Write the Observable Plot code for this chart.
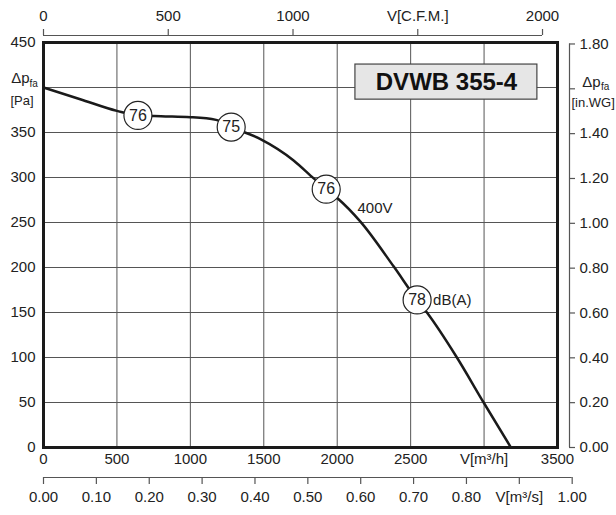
<!DOCTYPE html>
<html><head><meta charset="utf-8">
<script src="https://cdn.jsdelivr.net/npm/d3@7"></script>
<script src="https://cdn.jsdelivr.net/npm/@observablehq/plot@0.6"></script>
<style>html,body{margin:0;padding:0;background:#fff}</style>
</head><body><div id="chart"></div>
<script>
// ---- data ----
const flowM3h   = [0, 250, 500, 643, 800, 1000, 1175, 1278, 1474, 1703, 1840, 1925, 2002, 2158, 2385, 2544, 2611, 2815, 2997, 3183];
const pressurePa = [400, 387, 374, 369, 368, 367, 364, 356, 343, 319, 299, 287, 277, 251, 201, 164, 150, 100, 50, 0];

const soundFlow = [643, 1278, 1925, 2544];
const soundPa   = [369, 356, 287, 164];
const soundDb   = ["76", "75", "76", "78"];

const m3hTicks  = [0, 500, 1000, 1500, 2000, 2500, 3000, 3500];
const m3hLabels = ["0", "500", "1000", "1500", "2000", "2500", "V[m³/h]", "3500"];
const paTicks   = [0, 50, 100, 150, 200, 250, 300, 350, 400, 450];
const paLabels  = ["0", "50", "100", "150", "200", "250", "300", "350", "", "450"];
const cfmTicks  = [0, 500, 1000, 1500, 2000];
const cfmLabels = ["0", "500", "1000", "V[C.F.M.]", "2000"];
const m3sTicks  = [0, 0.1, 0.2, 0.3, 0.4, 0.5, 0.6, 0.7, 0.8, 0.9, 1.0];
const m3sLabels = ["0.00", "0.10", "0.20", "0.30", "0.40", "0.50", "0.60", "0.70", "0.80", "V[m³/s]", "1.00"];
const inwgTicks  = [0, 0.2, 0.4, 0.6, 0.8, 1.0, 1.2, 1.4, 1.6, 1.8];
const inwgLabels = ["0.00", "0.20", "0.40", "0.60", "0.80", "1.00", "1.20", "1.40", "", "1.80"];

const modelName = "DVWB 355-4";
const voltageLabel = "400V";
const unitLabel = "dB(A)";

// unit conversions
const CFM_TO_M3H = 1.699;
const M3S_TO_M3H = 3600;
const INWG_TO_PA = 249.09;

// ---- layout ----
const W = 616, H = 515;
const mL = 43, mR = 59, mT = 42, mB = 68;
const xMax = 3500, yMax = 450;
const ux = xMax / (W - mL - mR);   // data units per px (x)
const uy = yMax / (H - mT - mB);   // data units per px (y)
const font = "Liberation Sans, Arial, Helvetica, sans-serif";

const curve = flowM3h.map((v, i) => ({v, p: pressurePa[i]}));
const sound = soundFlow.map((v, i) => ({v, p: soundPa[i], t: soundDb[i]}));
const gridX = m3hTicks.filter(d => d > 0 && d < xMax);
const gridY = paTicks.filter(d => d > 0 && d < yMax);

const topLine = yMax + 7 * uy, topTick = yMax + 13 * uy, topText = yMax + 26 * uy;
const botLine = -30 * uy, botTick = -37 * uy, botText = -50 * uy;
const rLine = xMax + 12 * ux, rTick = xMax + 18 * ux, rText = xMax + 22 * ux;
const gray = "#555";

const chart = Plot.plot({
  width: W, height: H,
  marginLeft: mL, marginRight: mR, marginTop: mT, marginBottom: mB,
  x: {domain: [0, xMax], axis: null},
  y: {domain: [0, yMax], axis: null},
  style: {fontFamily: font, fontSize: "15px", background: "#fff", overflow: "visible"},
  marks: [
    Plot.ruleX(gridX, {stroke: gray, strokeWidth: 1}),
    Plot.ruleY(gridY, {stroke: gray, strokeWidth: 1}),
    // title box
    Plot.rect([modelName], {x1: 2124, x2: 3363, y1: 386.5, y2: 425.5, fill: "#e6e6e6", stroke: "#444", strokeWidth: 1.2}),
    Plot.text([modelName], {x: 2744, y: 406, text: d => d, fontSize: 24, fontWeight: "bold", fill: "#111"}),
    // curve
    Plot.line(curve, {x: "v", y: "p", curve: "monotone-x", stroke: "#1a1a1a", strokeWidth: 2.5}),
    Plot.dot(sound, {x: "v", y: "p", r: 14, fill: "#fff", stroke: "#222", strokeWidth: 1.2}),
    Plot.text(sound, {x: "v", y: "p", text: "t", fontSize: 16, fill: "#222"}),
    Plot.text([voltageLabel], {x: 2138, y: 266, text: d => d, textAnchor: "start", fontSize: 15, fill: "#222"}),
    Plot.text([unitLabel], {x: soundFlow[3], y: soundPa[3], dx: 16, text: d => d, textAnchor: "start", fontSize: 15, fill: "#222"}),
    Plot.frame({stroke: "#1a1a1a", strokeWidth: 3}),
    // left axis
    Plot.text(paTicks, {frameAnchor: "left", y: d => d, text: (d, i) => paLabels[i], textAnchor: "end", dx: -8, fill: "#222"}),
    Plot.text(["Δp"], {frameAnchor: "left", y: 410, dx: -14, textAnchor: "end", text: d => d, fontSize: 15, fill: "#222"}),
    Plot.text(["fa"], {frameAnchor: "left", y: 404.5, dx: -14, textAnchor: "start", text: d => d, fontSize: 10, fill: "#222"}),
    Plot.text(["[Pa]"], {frameAnchor: "left", y: 385.5, dx: -10, textAnchor: "end", text: d => d, fontSize: 13, fill: "#222"}),
    // bottom m3/h labels
    Plot.text(m3hTicks, {x: d => d, frameAnchor: "bottom", dy: 16, text: (d, i) => m3hLabels[i], fill: "#222"}),
    // top CFM axis
    Plot.ruleY([topLine], {x1: 0, x2: cfmTicks[cfmTicks.length - 1] * CFM_TO_M3H, stroke: gray, strokeWidth: 1.2}),
    Plot.ruleX(cfmTicks, {x: d => d * CFM_TO_M3H, y1: topLine, y2: topTick, stroke: gray, strokeWidth: 1.2}),
    Plot.text(cfmTicks, {x: d => d * CFM_TO_M3H, y: topText, text: (d, i) => cfmLabels[i], fill: "#222"}),
    // bottom m3/s axis
    Plot.ruleY([botLine], {x1: 0, x2: m3sTicks[m3sTicks.length - 1] * M3S_TO_M3H, stroke: gray, strokeWidth: 1.2}),
    Plot.ruleX(m3sTicks, {x: d => d * M3S_TO_M3H, y1: botLine, y2: botTick, stroke: gray, strokeWidth: 1.2}),
    Plot.text(m3sTicks, {x: d => d * M3S_TO_M3H, y: botText, text: (d, i) => m3sLabels[i], fill: "#222"}),
    // right in.WG axis
    Plot.ruleX([rLine], {y1: 0, y2: inwgTicks[inwgTicks.length - 1] * INWG_TO_PA, stroke: gray, strokeWidth: 1.2}),
    Plot.ruleY(inwgTicks, {y: d => d * INWG_TO_PA, x1: rLine, x2: rTick, stroke: gray, strokeWidth: 1.2}),
    Plot.text(inwgTicks, {y: d => d * INWG_TO_PA, x: rText, text: (d, i) => inwgLabels[i], textAnchor: "start", fill: "#222"}),
    Plot.text(["Δp"], {x: xMax + 43 * ux, y: 406, textAnchor: "end", text: d => d, fontSize: 15, fill: "#222"}),
    Plot.text(["fa"], {x: xMax + 43.5 * ux, y: 401, textAnchor: "start", text: d => d, fontSize: 10, fill: "#222"}),
    Plot.text(["[in.WG]"], {x: xMax + 14 * ux, y: 383.5, textAnchor: "start", text: d => d, fontSize: 13, fill: "#222"})
  ]
});
document.getElementById("chart").appendChild(chart);
</script>
</body></html>
